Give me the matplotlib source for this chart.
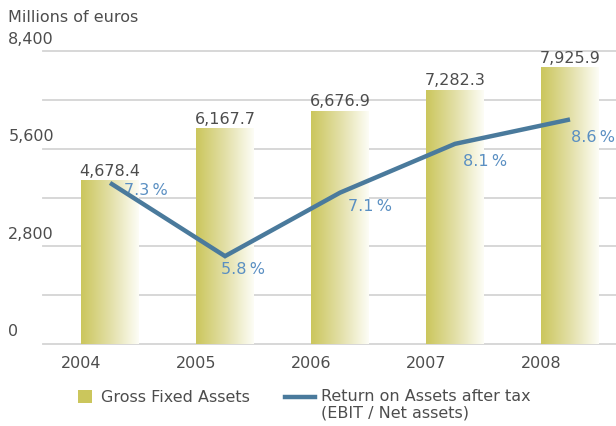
import numpy as np
import matplotlib
matplotlib.use("Agg")
import matplotlib.pyplot as plt
from matplotlib.colors import LinearSegmentedColormap
from matplotlib.patches import Rectangle
from matplotlib.lines import Line2D

years = ["2004", "2005", "2006", "2007", "2008"]
gross_fixed_assets = [4678.4, 6167.7, 6676.9, 7282.3, 7925.9]
return_on_assets = [7.3, 5.8, 7.1, 8.1, 8.6]
y_ticks = [0, 2800, 5600, 8400]

OLIVE = "#cbc65c"
LINE_BLUE = "#4a7a9c"
PCT_BLUE = "#5a8fc2"
TEXT_GREY = "#4d4d4d"
GRID_GREY = "#d4d4d4"
FS = 11.5

plt.rcParams['font.family'] = ['DejaVu Sans']

fig = plt.figure(figsize=(6.16, 4.27), dpi=100)
ax = fig.add_axes([0.0698, 0.192, 0.9302, 0.686])

x = np.arange(len(years))
width = 0.5

# gridlines every 1400
for g in np.arange(0, 8401, 1400):
    ax.axhline(g, color=GRID_GREY, lw=1.3, zorder=1, clip_on=False)

# gradient bars
cmap = LinearSegmentedColormap.from_list("olive", [OLIVE, "#e2dfa6", "#fdfdf6"])
grad = np.linspace(0, 1, 256).reshape(1, -1)
for xi, v in zip(x, gross_fixed_assets):
    ax.imshow(grad, cmap=cmap, extent=[xi - width / 2, xi + width / 2, 0, v],
              aspect='auto', zorder=2, interpolation='bilinear')
    ax.text(xi, v + 80, f"{v:,.1f}", ha='center', va='bottom',
            fontsize=FS, color=TEXT_GREY, zorder=5)

ax.set_xlim(-0.583, 4.4)
ax.set_ylim(0, 8400)

# return on assets on a secondary axis
ax2 = ax.twinx()
ax2.set_ylim(4, 10)
ax2.plot(x, return_on_assets, color=LINE_BLUE, lw=3.2, solid_capstyle='butt',
         solid_joinstyle='miter', zorder=4)
pct_offsets = [(10, -5), (-3, -9), (6, -9), (6, -12), (1, -12)]
for xi, r, off in zip(x, return_on_assets, pct_offsets):
    ax2.annotate(f"{r:.1f}\u2009%", xy=(xi, r), xytext=off, textcoords='offset points',
                 ha='left', va='center', fontsize=FS, color=PCT_BLUE)

for a in (ax, ax2):
    for s in a.spines.values():
        s.set_visible(False)
    a.set_yticks([])
ax.set_xticks(x - width / 2)
ax.set_xticklabels(years, fontsize=FS, color=TEXT_GREY)
ax.tick_params(axis='x', length=0, pad=8)

# y labels sit above their gridline, flush left
for t in y_ticks:
    ax.annotate(f"{t:,}", xy=(0, t), xycoords=ax.get_yaxis_transform(),
                xytext=(-25, 4), textcoords='offset points',
                ha='left', va='bottom', fontsize=FS, color=TEXT_GREY)
fig.text(0.013, 0.958, "Millions of euros", fontsize=FS, color=TEXT_GREY,
         ha='left', va='center')

# legend drawn by hand
fig.add_artist(Rectangle((0.127, 0.053), 0.022, 0.032, transform=fig.transFigure,
                         color=OLIVE, lw=0))
fig.text(0.164, 0.07, "Gross Fixed Assets", fontsize=FS, color=TEXT_GREY,
         ha='left', va='center')
fig.add_artist(Line2D([0.463, 0.512], [0.068, 0.068], transform=fig.transFigure,
                      color=LINE_BLUE, lw=3.2))
fig.text(0.521, 0.072, "Return on Assets after tax", fontsize=FS, color=TEXT_GREY,
         ha='left', va='center')
fig.text(0.521, 0.032, "(EBIT / Net assets)", fontsize=FS, color=TEXT_GREY,
         ha='left', va='center')

fig.savefig("out.png", dpi=100)
